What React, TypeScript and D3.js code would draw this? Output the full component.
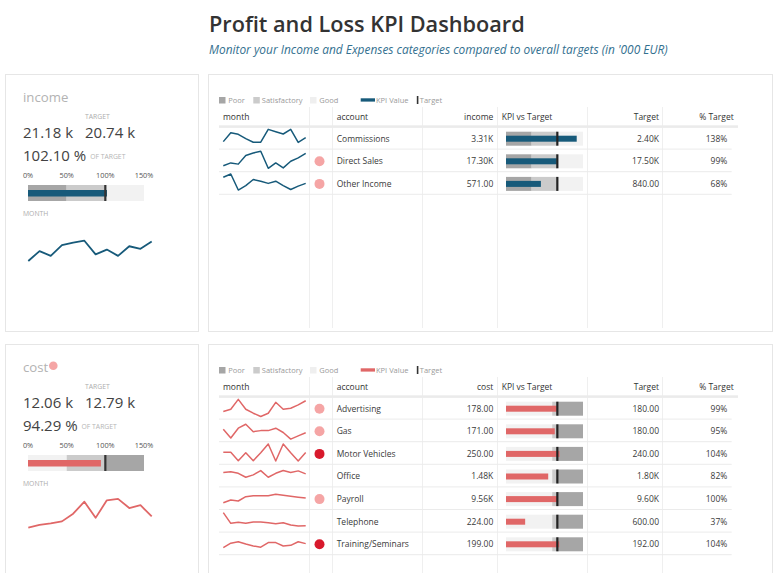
import React from 'react';
import * as d3 from 'd3';

const W = 779;
const H = 573;
const FONT = "'Open Sans', 'Noto Sans', sans-serif";

const MONTHS = ['Jan', 'Feb', 'Mar', 'Apr', 'May', 'Jun', 'Jul', 'Aug', 'Sep', 'Oct', 'Nov', 'Dec'];
const PCT_TICKS = [0, 0.5, 1, 1.5];
const LEGEND_ITEMS = ['Poor', 'Satisfactory', 'Good'];
const BAND_COLORS: Record<string, string> = { Poor: '#a6a6a6', Satisfactory: '#cbcbcb', Good: '#f2f2f2' };

// ---- income ----
const INCOME_ACCOUNTS = ['Commissions', 'Direct Sales', 'Other Income'];
const INCOME_VALUES = [3306, 17299, 571];
const INCOME_TARGETS = [2400, 17500, 840];
const INCOME_STATUS = [0, 1, 1];
const INCOME_MONTHLY = [1450, 1720, 1590, 1880, 1950, 2000, 1630, 1760, 1590, 1850, 1780, 1980];
const INCOME_MONTHLY_DOMAIN = [1369, 2453];
const INCOME_SPARKS = [
  [226, 310, 295, 254, 220, 221, 342, 320, 298, 342, 219, 263],
  [1310, 1380, 1350, 1560, 1620, 1660, 1250, 1380, 1260, 1420, 1500, 1610],
  [58, 64, 35, 43, 54, 51, 47, 51, 43, 36, 42, 47],
];
const INCOME_SPARK_DOMAINS = [[180, 350], [1230, 1665], [32, 64.5]];
const INCOME_CARD_BANDS: [number, number, string][] = [[0, 0.5, 'Poor'], [0.5, 1, 'Satisfactory'], [1, 1.5, 'Good']];
const INCOME_ROW_BANDS: [number, number, string][] = [[0, 0.5, 'Poor'], [0.5, 1, 'Satisfactory'], [1, 1.5, 'Good']];

// ---- cost ----
const COST_ACCOUNTS = ['Advertising', 'Gas', 'Motor Vehicles', 'Office', 'Payroll', 'Telephone', 'Training/Seminars'];
const COST_VALUES = [178, 171, 250, 1480, 9560, 224, 199];
const COST_TARGETS = [180, 180, 240, 1800, 9600, 600, 192];
const COST_STATUS = [1, 1, 2, 0, 1, 0, 2];
const COST_MONTHLY = [800, 840, 860, 890, 1000, 1170, 940, 1190, 1210, 1080, 1120, 960];
const COST_MONTHLY_DOMAIN = [710, 1280];
const COST_SPARKS = [
  [12.9, 14.2, 19.9, 14.2, 11.9, 10.0, 11.9, 18.2, 14.2, 14.8, 16.7, 19.1],
  [15.7, 10.6, 16.3, 18.6, 14.3, 14.9, 14.9, 16.3, 13.8, 10.0, 11.9, 13.7],
  [22.1, 22.1, 15.2, 21.8, 15.2, 21.8, 29.0, 15.0, 29.0, 21.8, 15.0, 22.0],
  [126, 128, 123, 110, 118, 132, 110, 123, 132, 126, 131, 121],
  [740, 769, 758, 804, 815, 815, 815, 830, 819, 808, 798, 789],
  [26.6, 18.1, 18.9, 18.1, 19.2, 19.2, 18.6, 17.8, 18.6, 16.8, 16.0, 16.1],
  [15.0, 17.1, 17.8, 16.7, 15.8, 15.2, 17.4, 17.4, 15.8, 16.1, 17.8, 16.9],
];
const COST_SPARK_DOMAINS = [[10, 20.4], [10, 20.4], [14.4, 29.2], [87, 146], [695, 887], [13.2, 27.5], [12.9, 21.4]];
const COST_CARD_BANDS: [number, number, string][] = [[0, 0.5, 'Good'], [0.5, 1, 'Satisfactory'], [1, 1.5, 'Poor']];
const COST_ROW_BANDS: [number, number, string][] = [[0, 0.9, 'Good'], [0.9, 1, 'Satisfactory'], [1, 1.5, 'Poor']];

const STATUS_COLORS = ['none', '#f5a5a5', '#d8192c'];
const INCOME_COLOR = '#175a7a';
const COST_COLOR = '#e06767';

const fmtCell = (v: number) => (v >= 1000 ? (v / 1000).toFixed(2) + 'K' : v.toFixed(2));
const fmtCard = (v: number) => (v / 1000).toFixed(2) + ' k';

const COL_LINES = [309.5, 332.5, 422.5, 497.5, 587.5, 662.5];

type SectionProps = {
  top: number;
  title: string;
  titleDot?: boolean;
  color: string;
  valueLabel: string;
  accounts: string[];
  values: number[];
  targets: number[];
  status: number[];
  monthly: number[];
  monthlyDomain: number[];
  sparks: number[][];
  sparkDomains: number[][];
  cardBands: [number, number, string][];
  rowBands: [number, number, string][];
};

function Section(p: SectionProps) {
  const T = p.top;
  const total = d3.sum(p.values);
  const target = d3.sum(p.targets);
  const pct = total / target;

  const bx = d3.scaleLinear().domain([0, 1.5]).range([28, 144]);
  const sx = d3.scalePoint<string>().domain(MONTHS).range([28.3, 151.7]);
  const sy = d3.scaleLinear().domain(p.monthlyDomain).range([T + 190, T + 150]);
  const cardLine = d3.line<number>().x((_, i) => sx(MONTHS[i]) as number).y((d) => sy(d));

  const rx = d3.scaleLinear().domain([0, 1.5]).range([506, 583]);
  const rsx = d3.scalePoint<string>().domain(MONTHS).range([223.3, 305.7]);
  const headerTop = T + 33;
  const headerBottom = T + 52.5;
  const rowH = 22.6;

  const txt = { fontFamily: FONT } as const;

  return (
    <g>
      {/* left card */}
      <rect x={5.5} y={T + 0.5} width={193} height={257} fill="#fff" stroke="#e6e6e6" />
      <text x={23} y={T + 27.7} fontSize={13.2} fill="#b3b3b3" style={txt}>{p.title}</text>
      {p.titleDot && <circle cx={53.3} cy={T + 21.7} r={4.3} fill={STATUS_COLORS[1]} />}
      <text x={85} y={T + 44.7} fontSize={6.8} fill="#adadad" style={txt}>TARGET</text>
      <text x={23} y={T + 64.3} fontSize={15} fill="#424242" style={txt}>{fmtCard(total)}</text>
      <text x={85} y={T + 64.3} fontSize={15} fill="#424242" style={txt}>{fmtCard(target)}</text>
      <text x={23} y={T + 87.3} fontSize={15} fill="#424242" style={txt}>
        {(pct * 100).toFixed(2) + ' %'}
        <tspan dx={4} dy={-2.6} fontSize={6.8} fill="#b5b5b5">OF TARGET</tspan>
      </text>
      {PCT_TICKS.map((t) => (
        <text key={t} x={bx(t)} y={T + 103.7} fontSize={7.3} fill="#555" textAnchor="middle" style={txt}>
          {Math.round(t * 100) + '%'}
        </text>
      ))}
      {p.cardBands.map(([a, b, name]) => (
        <rect key={name} x={bx(a)} y={T + 111} width={bx(b) - bx(a)} height={16} fill={BAND_COLORS[name]} />
      ))}
      <rect x={bx(0)} y={T + 116} width={bx(pct) - bx(0)} height={6.5} fill={p.color} />
      <rect x={bx(1) - 1.1} y={T + 111} width={2.2} height={16} fill="#333" />
      <text x={23} y={T + 142} fontSize={6.8} fill="#adadad" style={txt}>MONTH</text>
      <path d={cardLine(p.monthly) || ''} fill="none" stroke={p.color} strokeWidth={1.8} strokeLinejoin="round" />

      {/* right panel */}
      <rect x={208.5} y={T + 0.5} width={564} height={257} fill="#fff" stroke="#e6e6e6" />
      <g style={txt} fontSize={7.5} fill="#9a9a9a">
        <rect x={219} y={T + 23} width={6.5} height={6.5} fill={BAND_COLORS.Poor} />
        <text x={228.3} y={T + 29.2}>{LEGEND_ITEMS[0]}</text>
        <rect x={253.3} y={T + 23} width={6.5} height={6.5} fill={BAND_COLORS.Satisfactory} />
        <text x={261.8} y={T + 29.2}>{LEGEND_ITEMS[1]}</text>
        <rect x={310} y={T + 23} width={6.5} height={6.5} fill="#efefef" />
        <text x={319.3} y={T + 29.2}>{LEGEND_ITEMS[2]}</text>
        <rect x={360.7} y={T + 24.3} width={14.3} height={3.3} fill={p.color} />
        <text x={376} y={T + 29.2}>KPI Value</text>
        <rect x={416.8} y={T + 22} width={1.6} height={8} fill="#333" />
        <text x={419.8} y={T + 29.2}>Target</text>
      </g>

      {COL_LINES.map((x) => (
        <line key={x} x1={x} x2={x} y1={headerTop} y2={T + 254} stroke="#efefef" strokeWidth={1} />
      ))}
      <g style={txt} fontSize={8.5} fill="#333">
        <text x={223} y={T + 46.3}>month</text>
        <text x={336.7} y={T + 46.3}>account</text>
        <text x={493.3} y={T + 46.3} textAnchor="end">{p.valueLabel}</text>
        <text x={501.7} y={T + 46.3}>KPI vs Target</text>
        <text x={659} y={T + 46.3} textAnchor="end">Target</text>
        <text x={733.7} y={T + 46.3} textAnchor="end">% Target</text>
      </g>
      <rect x={219} y={headerBottom - 1.2} width={519} height={2.6} fill="#ebebeb" />

      {p.accounts.map((acc, i) => {
        const rt = headerBottom + rowH * i;
        const c = rt + 12.2;
        const ry = d3.scaleLinear().domain(p.sparkDomains[i]).range([rt + 20, rt + 2]);
        const line = d3.line<number>().x((_, j) => rsx(MONTHS[j]) as number).y((d) => ry(d));
        const rp = p.values[i] / p.targets[i];
        return (
          <g key={acc}>
            <line x1={219} x2={731.7} y1={rt + rowH} y2={rt + rowH} stroke="#ebebeb" strokeWidth={1} />
            <path d={line(p.sparks[i]) || ''} fill="none" stroke={p.color} strokeWidth={1.5} strokeLinejoin="round" />
            {p.status[i] > 0 && <circle cx={319.5} cy={c} r={5} fill={STATUS_COLORS[p.status[i]]} />}
            <g style={txt} fontSize={8.5} fill="#3a3a3a">
              <text x={336.7} y={rt + 15}>{acc}</text>
              <text x={493.3} y={rt + 15} textAnchor="end">{fmtCell(p.values[i])}</text>
              <text x={659} y={rt + 15} textAnchor="end">{fmtCell(p.targets[i])}</text>
              <text x={727.3} y={rt + 15} textAnchor="end">{Math.round(rp * 100) + '%'}</text>
            </g>
            {p.rowBands.map(([a, b, name]) => (
              <rect key={name} x={rx(a)} y={c - 7} width={rx(b) - rx(a)} height={14} fill={BAND_COLORS[name]} />
            ))}
            <rect x={rx(0)} y={c - 3} width={rx(rp) - rx(0)} height={6} fill={p.color} />
            <rect x={rx(1) - 1.1} y={c - 7} width={2.2} height={14} fill="#222" />
          </g>
        );
      })}
    </g>
  );
}

export default function App() {
  return (
    <svg width={W} height={H} style={{ position: 'absolute', left: 0, top: 0, background: '#fff' }}>
      <rect x={0} y={0} width={W} height={H} fill="#fff" />
      <text x={209} y={31.5} fontSize={21.7} fontWeight={600} fill="#333" style={{ fontFamily: FONT }}>
        Profit and Loss KPI Dashboard
      </text>
      <text x={209} y={54} fontSize={11.9} fontStyle="italic" fill="#33708f" style={{ fontFamily: FONT }}>
        Monitor your Income and Expenses categories compared to overall targets (in '000 EUR)
      </text>
      <Section
        top={74}
        title="income"
        color={INCOME_COLOR}
        valueLabel="income"
        accounts={INCOME_ACCOUNTS}
        values={INCOME_VALUES}
        targets={INCOME_TARGETS}
        status={INCOME_STATUS}
        monthly={INCOME_MONTHLY}
        monthlyDomain={INCOME_MONTHLY_DOMAIN}
        sparks={INCOME_SPARKS}
        sparkDomains={INCOME_SPARK_DOMAINS}
        cardBands={INCOME_CARD_BANDS}
        rowBands={INCOME_ROW_BANDS}
      />
      <Section
        top={344}
        title="cost"
        titleDot
        color={COST_COLOR}
        valueLabel="cost"
        accounts={COST_ACCOUNTS}
        values={COST_VALUES}
        targets={COST_TARGETS}
        status={COST_STATUS}
        monthly={COST_MONTHLY}
        monthlyDomain={COST_MONTHLY_DOMAIN}
        sparks={COST_SPARKS}
        sparkDomains={COST_SPARK_DOMAINS}
        cardBands={COST_CARD_BANDS}
        rowBands={COST_ROW_BANDS}
      />
    </svg>
  );
}
